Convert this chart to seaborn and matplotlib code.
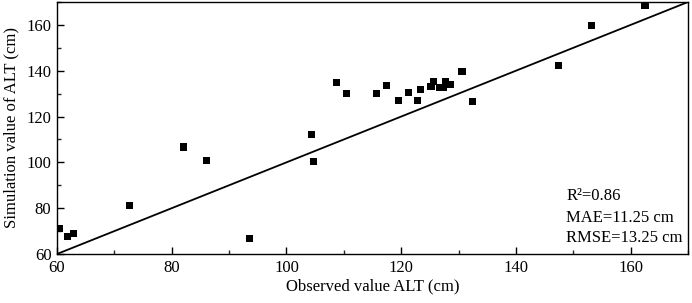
import matplotlib
matplotlib.use("Agg")
import matplotlib.pyplot as plt
import seaborn as sns
import pandas as pd
from matplotlib.ticker import MultipleLocator

observed = [60.4, 61.9, 62.8, 72.6, 82.1, 86.1, 93.5, 104.4, 104.7, 108.8, 110.4,
            115.7, 117.4, 119.5, 121.3, 122.8, 123.4, 125.2, 125.7, 126.7, 127.4,
            127.8, 128.6, 130.6, 132.4, 147.5, 153.1, 162.5]
simulated = [71.0, 67.6, 68.9, 81.0, 106.7, 101.0, 66.7, 112.3, 100.3, 134.8, 130.2,
             129.9, 133.7, 127.0, 130.4, 127.0, 131.9, 133.2, 135.2, 132.5, 132.5,
             135.1, 134.0, 139.5, 126.4, 142.1, 159.6, 168.4]
line_x = [60, 170]
line_y = [60, 170]
stats = ["R\u00b2=0.86", "MAE=11.25 cm", "RMSE=13.25 cm"]

sns.set_theme(style="white")
plt.rcParams['font.family'] = ['Liberation Serif', 'DejaVu Serif']

df = pd.DataFrame({"obs": observed, "sim": simulated})
fig = plt.figure(figsize=(6.92, 3.03), dpi=100)
ax = fig.add_axes([57/692, 49/303, 631/692, 252/303])

sns.lineplot(x=line_x, y=line_y, ax=ax, color="black", linewidth=1.3)
sns.scatterplot(data=df, x="obs", y="sim", ax=ax, marker="s", s=26,
                color="black", edgecolor="none", zorder=3)

ax.set_xlim(60, 170)
ax.set_ylim(60, 170)
ax.xaxis.set_major_locator(MultipleLocator(20))
ax.xaxis.set_minor_locator(MultipleLocator(10))
ax.yaxis.set_major_locator(MultipleLocator(20))
ax.yaxis.set_minor_locator(MultipleLocator(10))
ax.tick_params(which="major", direction="in", length=5, width=1, labelsize=12,
               colors="black", bottom=True, left=True, top=False, right=False, pad=4)
ax.tick_params(which="minor", direction="in", length=3, width=1,
               bottom=True, left=True, top=False, right=False)
for s in ax.spines.values():
    s.set_color("black")
    s.set_linewidth(1.0)

ax.set_xlabel("Observed value ALT (cm)", fontsize=12, color="black", labelpad=2)
ax.set_ylabel("Simulation value of ALT (cm)", fontsize=12, color="black", labelpad=5)

for txt, yv in zip(stats, [85.1, 75.7, 67.0]):
    ax.text(148.8, yv, txt, fontsize=12, va="center", ha="left", color="black")

fig.savefig("out.png", dpi=100)
